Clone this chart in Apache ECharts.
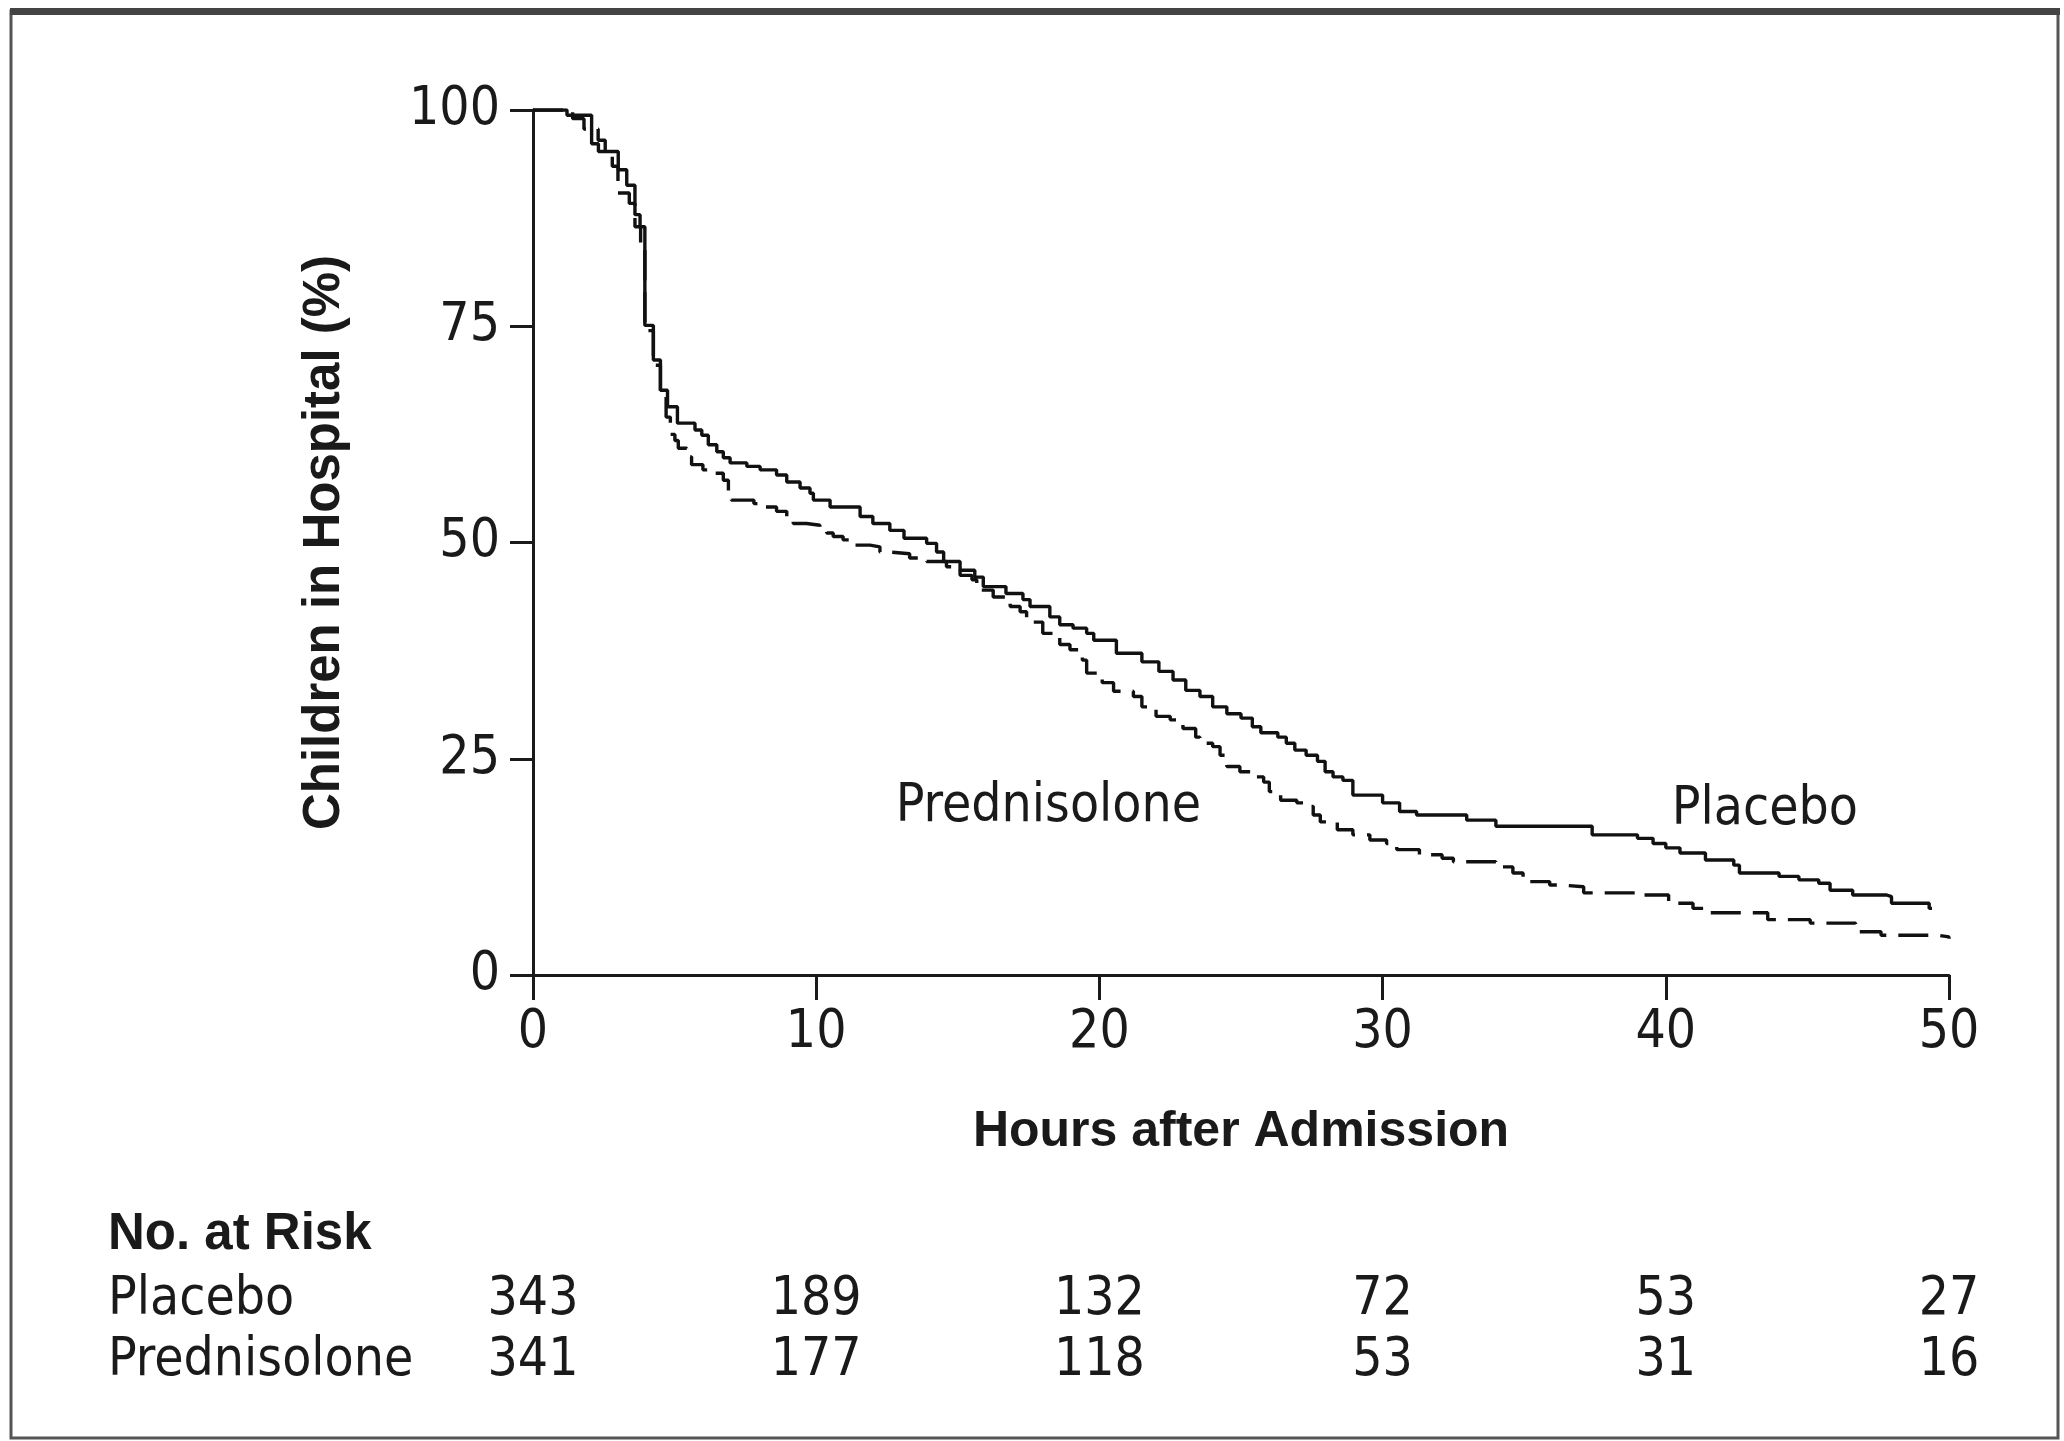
<!DOCTYPE html>
<html>
<head>
<meta charset="utf-8">
<script src="https://cdn.jsdelivr.net/npm/echarts@6/dist/echarts.min.js"></script>
<style>
html,body{margin:0;padding:0;background:#fff;}
#chart{width:2064px;height:1441px;}
</style>
</head>
<body>
<div id="chart"></div>
<script>
// ---- Data ----
const xTicks = [0, 10, 20, 30, 40, 50];
const yTicks = [0, 25, 50, 75, 100];

const placeboHours = [0, 1.2, 2.07, 2.31, 3.01, 3.31, 3.6, 3.78, 3.95, 4.25, 4.5, 4.75, 5.1, 5.72, 5.96, 6.19, 6.49, 6.72, 6.96, 7.55, 8.02, 8.6, 8.96, 9.43, 9.78, 9.9, 10.49, 11.55, 12.0, 12.6, 13.1, 13.9, 14.25, 14.5, 15.08, 15.6, 15.9, 16.7, 17.3, 17.55, 18.25, 18.6, 19.07, 19.55, 19.8, 20.6, 21.5, 22.1, 22.6, 23.05, 23.55, 24.0, 24.5, 25.0, 25.4, 25.7, 26.3, 26.6, 26.9, 27.3, 27.7, 27.97, 28.25, 28.6, 28.95, 30.0, 30.6, 31.2, 32.97, 34.0, 37.4, 39.0, 39.55, 40.0, 40.5, 41.4, 42.4, 42.6, 44.0, 44.7, 45.4, 45.8, 46.6, 47.8, 47.97, 49.3, 49.4];
const placeboPct   = [100, 99.4, 96.1, 95.2, 93.1, 91.3, 87.9, 86.5, 75.1, 71.1, 67.6, 65.7, 63.8, 63.0, 62.4, 61.3, 60.5, 59.8, 59.2, 58.8, 58.4, 57.8, 57.0, 56.3, 55.7, 54.9, 54.1, 53.0, 52.2, 51.4, 50.5, 49.9, 48.9, 47.8, 46.8, 46.0, 44.9, 44.1, 43.4, 42.6, 41.4, 40.5, 40.1, 39.5, 38.7, 37.2, 36.2, 35.1, 34.1, 32.9, 32.2, 31.0, 30.2, 29.7, 28.7, 28.0, 27.5, 26.8, 26.0, 25.4, 24.7, 23.5, 22.9, 22.5, 20.8, 19.9, 18.9, 18.5, 17.9, 17.2, 16.2, 15.8, 15.2, 14.7, 14.1, 13.3, 12.7, 11.8, 11.4, 11.0, 10.6, 9.8, 9.25, 9.05, 8.3, 7.7, 7.7];

const predHours = [0, 1.4, 1.8, 2.3, 2.55, 2.8, 3.0, 3.4, 3.6, 3.8, 3.95, 4.25, 4.5, 4.7, 4.85, 5.01, 5.13, 5.43, 5.6, 6.0, 6.43, 6.72, 6.9, 7.0, 7.8, 8.14, 8.6, 8.96, 9.19, 9.66, 10.13, 10.37, 10.6, 10.95, 11.2, 11.9, 12.25, 12.6, 13.3, 13.9, 14.6, 15.08, 15.5, 15.67, 16.25, 16.85, 17.2, 17.43, 18.0, 18.6, 18.96, 19.4, 19.55, 20.1, 20.5, 21.2, 21.5, 22.0, 22.5, 22.95, 23.4, 23.55, 24.0, 24.26, 24.5, 24.96, 25.4, 25.8, 26.0, 26.4, 26.97, 27.3, 27.55, 27.8, 28.4, 28.95, 29.55, 30.14, 30.5, 31.3, 32.1, 32.5, 34.0, 34.6, 34.96, 35.9, 36.3, 37.1, 38.97, 40.1, 40.96, 41.4, 43.6, 45.1, 46.7, 47.6, 49.6, 50.0];
const predPct   = [100, 99.0, 97.8, 96.5, 95.0, 93.5, 90.4, 89.2, 86.5, 84.5, 74.5, 70.5, 67.0, 64.5, 62.5, 61.8, 60.9, 59.9, 59.0, 58.4, 58.0, 57.2, 55.9, 54.9, 54.5, 54.1, 53.6, 52.8, 52.2, 52.0, 51.6, 51.1, 50.7, 50.3, 49.7, 49.5, 48.9, 48.7, 48.2, 47.8, 47.2, 46.2, 45.7, 44.5, 43.7, 42.6, 42.0, 40.8, 39.5, 38.2, 37.6, 36.4, 34.9, 33.8, 32.8, 32.2, 31.0, 29.9, 29.5, 28.5, 27.5, 26.8, 26.4, 25.4, 24.1, 23.5, 22.9, 22.3, 21.2, 20.2, 19.9, 19.5, 18.5, 17.7, 16.8, 16.2, 15.6, 15.2, 14.5, 13.9, 13.5, 13.1, 12.5, 11.8, 10.8, 10.4, 10.2, 9.5, 9.25, 8.3, 7.7, 7.2, 6.4, 6.0, 5.0, 4.6, 4.4, 4.2];

const groups = ['Placebo', 'Prednisolone'];
const riskHours = [0, 10, 20, 30, 40, 50];
const placeboRisk = [343, 189, 132, 72, 53, 27];
const predRisk = [341, 177, 118, 53, 31, 16];

// ---- Build ----
const NARROW = '"Liberation Sans Narrow", "DejaVu Sans Condensed", "Liberation Sans", sans-serif';
const BOLD = '"Liberation Sans", Arial, sans-serif';
const INK = '#1a1a1a';

const zip = (a, b) => a.map((v, i) => [v, b[i]]);
const riskData = [];
riskHours.forEach((h, i) => {
  riskData.push([h, groups[0], placeboRisk[i]]);
  riskData.push([h, groups[1], predRisk[i]]);
});

const chart = echarts.init(document.getElementById('chart'), null, {renderer: 'canvas'});

const option = {
  backgroundColor: '#ffffff',
  animation: false,
  grid: [
    {left: 533, right: 115, top: 110, bottom: 466},
    {left: 533, right: 115, top: 1270, height: 122}
  ],
  xAxis: [
    {
      gridIndex: 0, type: 'value', min: 0, max: 50, interval: 10,
      name: 'Hours after Admission', nameLocation: 'middle', nameGap: 132,
      nameTextStyle: {fontFamily: BOLD, fontWeight: 'bold', fontSize: 50, color: INK},
      axisLine: {show: true, onZero: false, lineStyle: {color: INK, width: 3}},
      axisTick: {show: true, length: 25, lineStyle: {color: INK, width: 3}},
      axisLabel: {margin: 32, fontFamily: NARROW, fontSize: 53, color: INK},
      splitLine: {show: false}
    },
    {
      gridIndex: 1, type: 'value', min: 0, max: 50, interval: 10,
      axisLine: {show: false}, axisTick: {show: false}, axisLabel: {show: false}, splitLine: {show: false}
    }
  ],
  yAxis: [
    {
      gridIndex: 0, type: 'value', min: 0, max: 100, interval: 25,
      name: 'Children in Hospital (%)', nameLocation: 'middle', nameGap: 183,
      nameTextStyle: {fontFamily: BOLD, fontWeight: 'bold', fontSize: 51, color: INK},
      axisLine: {show: true, onZero: false, lineStyle: {color: INK, width: 3}},
      axisTick: {show: true, length: 23, lineStyle: {color: INK, width: 3}},
      axisLabel: {margin: 33, fontFamily: NARROW, fontSize: 53, color: INK},
      splitLine: {show: false}
    },
    {
      gridIndex: 1, type: 'category', data: groups, inverse: true,
      axisLine: {show: false}, axisTick: {show: false}, splitLine: {show: false},
      axisLabel: {show: true, interval: 0, align: 'left', margin: 425, fontFamily: NARROW, fontSize: 53, color: INK}
    }
  ],
  series: [
    {
      name: 'Placebo', type: 'line', step: 'end', xAxisIndex: 0, yAxisIndex: 0,
      data: zip(placeboHours, placeboPct), showSymbol: false, symbol: 'none',
      lineStyle: {color: '#111', width: 3.4, type: 'solid'},
      z: 3,
      markPoint: {
        symbol: 'circle', symbolSize: 0, silent: true,
        label: {show: true, position: 'inside', fontFamily: NARROW, fontSize: 53, color: INK, formatter: '{b}'},
        data: [{name: 'Placebo', coord: [43.5, 19.0]}]
      }
    },
    {
      name: 'Prednisolone', type: 'line', step: 'end', xAxisIndex: 0, yAxisIndex: 0,
      data: zip(predHours, predPct), showSymbol: false, symbol: 'none',
      lineStyle: {color: '#111', width: 3.4, type: [30, 12]},
      z: 2,
      markPoint: {
        symbol: 'circle', symbolSize: 0, silent: true,
        label: {show: true, position: 'inside', fontFamily: NARROW, fontSize: 53, color: INK, formatter: '{b}'},
        data: [{name: 'Prednisolone', coord: [18.2, 19.4]}]
      }
    },
    {
      name: 'No. at Risk', type: 'scatter', xAxisIndex: 1, yAxisIndex: 1,
      data: riskData, symbolSize: 0, silent: true,
      itemStyle: {opacity: 1},
      label: {
        show: true, position: 'inside', fontFamily: NARROW, fontSize: 53, color: INK, opacity: 1,
        formatter: p => String(p.value[2])
      }
    }
  ],
  graphic: [
    {type: 'rect', z: 100, silent: true, shape: {x: 11, y: 11, width: 2047, height: 1427},
     style: {fill: 'none', stroke: '#555', lineWidth: 3}},
    {type: 'rect', z: 100, silent: true, shape: {x: 10, y: 8, width: 2050, height: 7},
     style: {fill: '#444'}},
    {type: 'text', z: 100, silent: true, x: 108, y: 1235,
     style: {text: 'No. at Risk', font: 'bold 51px "Liberation Sans", Arial, sans-serif', fill: INK, verticalAlign: 'middle', align: 'left'}}
  ]
};
chart.setOption(option);
</script>
</body>
</html>
